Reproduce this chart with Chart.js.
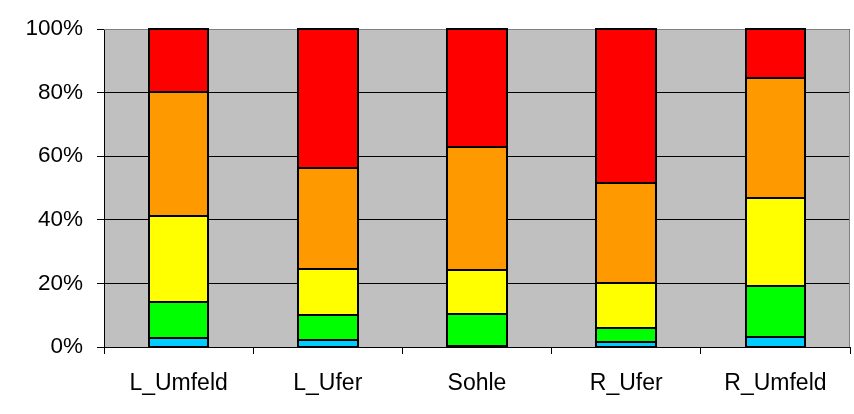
<!DOCTYPE html>
<html>
<head>
<meta charset="utf-8">
<script src="https://cdn.jsdelivr.net/npm/chart.js@4/dist/chart.umd.min.js"></script>
<style>
  html, body { margin: 0; padding: 0; background: #fff; }
  #wrap { width: 854px; height: 414px; }
</style>
</head>
<body>
<div id="wrap"><canvas id="chart" width="854" height="414"></canvas></div>
<script>
// Categories and stacked shares (percent)
const categories = ['L_Umfeld', 'L_Ufer', 'Sohle', 'R_Ufer', 'R_Umfeld'];
const blueValues   = [2.7, 2.2, 0.3, 1.7, 3.2];
const greenValues  = [11.3, 7.8, 10.0, 4.2, 16.0];
const yellowValues = [27.3, 14.6, 14.0, 14.3, 27.8];
const orangeValues = [39.0, 31.6, 38.6, 31.3, 37.5];
const redValues    = [19.7, 43.8, 37.1, 48.5, 15.5];
const yTicks = [0, 20, 40, 60, 80, 100];

// Grey plot area like the original spreadsheet chart, with a thin frame on top/right
const plotBackground = {
    id: 'plotBackground',
    beforeDraw: function(chart) {
        const a = chart.chartArea;
        const ctx = chart.ctx;
        ctx.save();
        ctx.fillStyle = '#c0c0c0';
        ctx.fillRect(a.left, a.top, a.right - a.left, a.bottom - a.top);
        ctx.restore();
    },
    afterDatasetsDraw: function(chart) {
        const a = chart.chartArea;
        const ctx = chart.ctx;
        ctx.save();
        ctx.strokeStyle = '#808080';
        ctx.lineWidth = 1;
        ctx.beginPath();
        ctx.moveTo(a.left, a.top + 0.5);
        ctx.lineTo(a.right - 0.5, a.top + 0.5);
        ctx.lineTo(a.right - 0.5, a.bottom);
        ctx.stroke();

        // segment outlines: one 2px black line on every edge, shared between neighbours
        ctx.strokeStyle = '#000000';
        ctx.lineWidth = 2;
        chart.data.datasets.forEach((ds, i) => {
            const meta = chart.getDatasetMeta(i);
            meta.data.forEach(bar => {
                const p = bar.getProps(['x', 'y', 'base', 'width'], true);
                const left = Math.round(p.x - p.width / 2);
                const right = Math.round(p.x + p.width / 2);
                const top = Math.round(Math.min(p.y, p.base));
                const bottom = Math.round(Math.max(p.y, p.base));
                ctx.strokeRect(left, top, right - left, bottom - top);
            });
        });
        ctx.restore();
    }
};

function makeSet(label, data, color) {
    return {
        label: label,
        data: data,
        backgroundColor: color,
        borderWidth: 0,
        barPercentage: 0.4,
        categoryPercentage: 1.0
    };
}

const ctx = document.getElementById('chart').getContext('2d');

new Chart(ctx, {
    type: 'bar',
    data: {
        labels: categories,
        datasets: [
            makeSet('blau', blueValues, '#00ccff'),
            makeSet('grün', greenValues, '#00ff00'),
            makeSet('gelb', yellowValues, '#ffff00'),
            makeSet('orange', orangeValues, '#ff9900'),
            makeSet('rot', redValues, '#ff0000')
        ]
    },
    options: {
        responsive: false,
        animation: false,
        layout: {
            padding: { top: 29, right: 4, left: 0, bottom: 0 }
        },
        plugins: {
            legend: { display: false },
            tooltip: { enabled: false }
        },
        scales: {
            x: {
                stacked: true,
                grid: {
                    offset: true,
                    drawOnChartArea: false,
                    color: '#000000',
                    tickLength: 7
                },
                border: { color: '#000000', width: 1 },
                ticks: {
                    color: '#000000',
                    padding: 16,
                    font: { family: 'Liberation Sans, Arial, sans-serif', size: 23 }
                },
                afterFit: function(scale) { scale.height = 67; }
            },
            y: {
                stacked: true,
                min: 0,
                max: 100,
                afterBuildTicks: function(scale) {
                    scale.ticks = yTicks.map(v => ({ value: v }));
                },
                grid: {
                    color: '#000000',
                    tickLength: 7
                },
                border: { color: '#000000', width: 1 },
                ticks: {
                    color: '#000000',
                    padding: 14,
                    font: { family: 'Liberation Sans, Arial, sans-serif', size: 22.5 },
                    callback: function(v) { return v + '%'; }
                },
                afterFit: function(scale) { scale.width = 104; }
            }
        }
    },
    plugins: [plotBackground]
});
</script>
</body>
</html>
